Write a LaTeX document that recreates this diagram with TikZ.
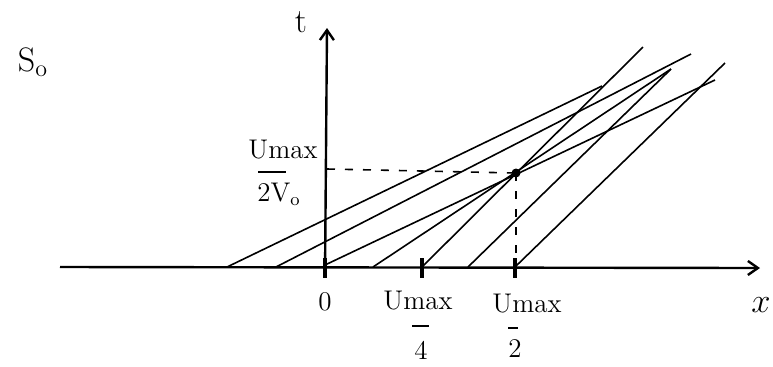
\documentclass[tikz,border=0pt]{standalone}
\usetikzlibrary{arrows.meta}
\begin{document}
\begin{tikzpicture}[x=0.5pt,y=-0.5pt,
  axis/.style={line width=1.2pt},
  charline/.style={line width=0.8pt},
  tickmark/.style={line width=2pt},
  guide/.style={line width=0.8pt, dash pattern=on 4pt off 5pt},
  barline/.style={line width=0.9pt},
  lbl/.style={font=\fontsize{13.5}{15}\selectfont, inner sep=0pt},
  biglbl/.style={font=\fontsize{17}{19}\selectfont, inner sep=0pt},
  tip/.style={-{Straight Barb[length=5pt,width=7pt]}}]
\useasboundingbox (0,0) rectangle (773,366);
% axes
\coordinate (xl) at (60,267);
\coordinate (xr) at (760,268);
\coordinate (yb) at (325,277);
\coordinate (yt) at (327,28);
\draw[axis,tip] (xl) -- (xr);
\draw[axis,tip] (yb) -- (yt);
% ticks
\coordinate (t0a) at (325,258); \coordinate (t0b) at (325,278);
\coordinate (t1a) at (422,258); \coordinate (t1b) at (422,278);
\coordinate (t2a) at (515,258); \coordinate (t2b) at (515,278);
\draw[tickmark] (t0a) -- (t0b);
\draw[tickmark] (t1a) -- (t1b);
\draw[tickmark] (t2a) -- (t2b);
% characteristics
\coordinate (a0) at (227,267); \coordinate (a1) at (602,86);
\coordinate (b0) at (276,267); \coordinate (b1) at (691,54);
\coordinate (c0) at (325,265); \coordinate (c1) at (715,80);
\coordinate (d0) at (373,267); \coordinate (d1) at (671,69);
\coordinate (e0) at (422,267); \coordinate (e1) at (643,47);
\coordinate (f0) at (468,267); \coordinate (f1) at (671,69);
\coordinate (g0) at (515,267); \coordinate (g1) at (725,63);
\draw[charline] (a0) -- (a1);
\draw[charline] (b0) -- (b1);
\draw[charline] (c0) -- (c1);
\draw[charline] (d0) -- (d1);
\draw[charline] (e0) -- (e1);
\draw[charline] (f0) -- (f1);
\draw[charline] (g0) -- (g1);
% crossing point and guides
\coordinate (P) at (516,173);
\coordinate (Py) at (327,169);
\coordinate (Px) at (516,266);
\draw[guide] (Py) -- (P);
\draw[guide] (P) -- (Px);
\fill (P) circle (4.5);
% labels
\node[biglbl] (tlabel) at (301,22) {t};
\node[biglbl] (s0) at (33,62) {S$_\mathrm{o}$};
\node[lbl] (ynum) at (283,150) {Umax};
\node[lbl] (yden) at (279,194) {2V$_\mathrm{o}$};
\coordinate (yba) at (258,172); \coordinate (ybb) at (286,172);
\draw[barline] (yba) -- (ybb);
\node[lbl] (l0) at (325,302) {0};
\node[lbl] (n4) at (418,301) {Umax};
\node[lbl] (d4) at (421,350) {4};
\coordinate (b4a) at (412,326); \coordinate (b4b) at (429,326);
\draw[barline] (b4a) -- (b4b);
\node[lbl] (n2) at (527,304) {Umax};
\node[lbl] (d2) at (515,349) {2};
\coordinate (b2a) at (508,328); \coordinate (b2b) at (518,328);
\draw[barline] (b2a) -- (b2b);
\node[biglbl,anchor=east] (xlabel) at (771,305) {$x$};
\end{tikzpicture}
\end{document}
